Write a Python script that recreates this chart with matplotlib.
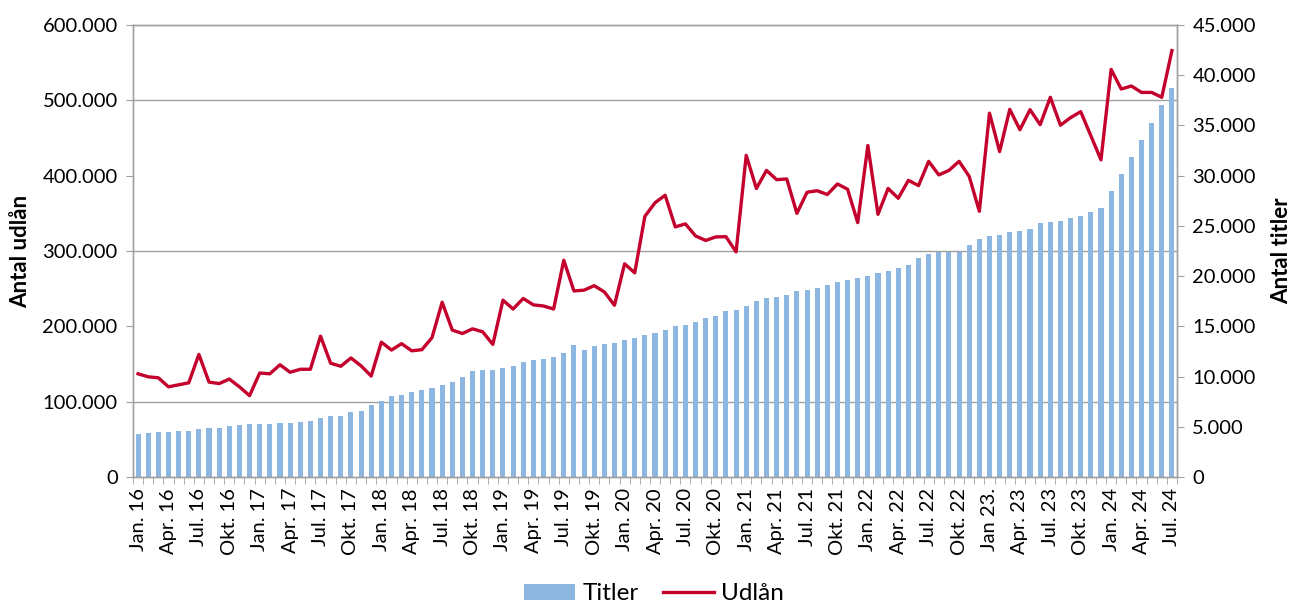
import matplotlib
matplotlib.use("Agg")
import matplotlib.pyplot as plt
from matplotlib.ticker import FuncFormatter, MultipleLocator, FixedLocator
from matplotlib.patches import Patch
from matplotlib.lines import Line2D

plt.rcParams['font.family'] = ['Lato', 'DejaVu Sans']

# antal titler pr. måned (jan. 2016 - jul. 2024)
titler = [4310, 4380, 4450, 4480, 4550, 4620, 4780, 4880, 4910, 5040, 5180, 5240,
          5240, 5280, 5380, 5350, 5480, 5610, 5910, 6040, 6110, 6440, 6570, 7140,
          7530, 8050, 8160, 8430, 8660, 8860, 9130, 9490, 9920, 10550, 10650, 10620,
          10850, 11080, 11450, 11620, 11720, 11980, 12310, 13140, 12680, 13010, 13240, 13370,
          13670, 13810, 14170, 14310, 14640, 15030, 15100, 15460, 15860, 16030, 16560, 16630,
          17020, 17520, 17790, 17920, 18090, 18520, 18620, 18820, 19080, 19380, 19610, 19810,
          19980, 20280, 20480, 20780, 21080, 21770, 22200, 22430, 22430, 22370, 23070, 23730,
          23960, 24120, 24390, 24490, 24660, 25260, 25420, 25450, 25760, 26020, 26350, 26750,
          28440, 30140, 31860, 33580, 35270, 37000, 38730]

# antal udlån pr. måned
udlaan = [137000, 133000, 131700, 119700, 122400, 125000, 162700, 126000, 124000, 130000, 119700, 108000,
          138000, 137000, 149000, 139000, 143000, 143000, 187000, 151000, 147000, 158000, 147600, 134000,
          179000, 168500, 177000, 167500, 169000, 185000, 232000, 195000, 190500, 196700, 192700, 176000,
          234700, 223000, 237000, 228500, 227000, 223000, 287700, 247000, 248000, 254000, 245700, 228000,
          283000, 271000, 346000, 364000, 374000, 332000, 336000, 320000, 314000, 318700, 319000, 298800,
          427000, 383000, 407000, 394700, 395600, 350000, 378000, 380000, 375000, 389000, 382000, 337700,
          440000, 348700, 383000, 370000, 393800, 386800, 419000, 401000, 407000, 419000, 399000, 352700,
          483000, 432000, 488000, 461000, 487600, 467700, 504000, 467000, 477000, 485000, 453000, 421000,
          541000, 515000, 519000, 510500, 510500, 504000, 566000]

# etiketter hver 3. måned
kvartal = ["Jan.", "Apr.", "Jul.", "Okt."]
aar = ["16", "17", "18", "19", "20", "21", "22", "23", "24"]
etiketter = []
for a in aar:
    for k in kvartal:
        if a == "23" and k == "Jan.":
            etiketter.append("Jan 23.")
        else:
            etiketter.append(k + " " + a)
etiketter = etiketter[:len(range(0, len(titler), 3))]

x = list(range(len(titler)))

fig = plt.figure(figsize=(12.94, 6.05), dpi=100)
ax = fig.add_axes([133/1294, 1-477/605, (1177-133)/1294, (477-25)/605])
ax2 = ax.twinx()

blaa = '#8DB6E0'
roed = '#C4002D'
graa = '#A0A0A0'

# søjler (højre akse)
ax2.bar(x, titler, width=0.5, color=blaa, zorder=2)
ax2.set_ylim(0, 45000)
ax2.yaxis.set_major_locator(MultipleLocator(5000))
ax2.yaxis.set_minor_locator(MultipleLocator(7500))
ax2.grid(which='minor', axis='y', color=graa, linewidth=1)
ax2.set_axisbelow(True)

# linje (venstre akse)
ax.plot(x, udlaan, color=roed, linewidth=2.4, zorder=3)
ax.set_ylim(0, 600000)
ax.set_xlim(-0.5, len(x) - 0.5)
ax.yaxis.set_major_locator(MultipleLocator(100000))
ax.set_zorder(ax2.get_zorder() + 1)
ax.patch.set_visible(False)

fmt = FuncFormatter(lambda v, p: f"{int(v):,}".replace(",", "."))
ax.yaxis.set_major_formatter(fmt)
ax2.yaxis.set_major_formatter(fmt)

# x-akse: streger mellem kategorier, etiketter hver 3. måned
ax.xaxis.set_major_locator(FixedLocator(list(range(0, len(x), 3))))
ax.set_xticklabels(etiketter, rotation=90, fontsize=14.5)
ax.xaxis.set_minor_locator(FixedLocator([i - 0.5 for i in range(len(x) + 1)]))
ax.tick_params(axis='x', which='major', length=0, pad=8)
ax.tick_params(axis='x', which='minor', length=5, color=graa)
ax.tick_params(axis='y', length=5, color=graa, labelsize=14.5, pad=6)
ax2.tick_params(axis='y', which='major', length=5, color=graa, labelsize=14.5, pad=6)
ax2.tick_params(axis='y', which='minor', length=0)

for a in (ax, ax2):
    for s in a.spines.values():
        s.set_color(graa)
        s.set_linewidth(1)

ax.set_ylabel("Antal udlån", fontsize=16, fontweight='bold', labelpad=8)
ax2.set_ylabel("Antal titler", fontsize=16, fontweight='bold', labelpad=11)

handles = [Patch(facecolor=blaa, edgecolor='none'),
           Line2D([0], [0], color=roed, linewidth=2.4)]
fig.legend(handles, ["Titler", "Udlån"], loc='center', bbox_to_anchor=(0.5055, 1 - 594/605),
           ncol=2, frameon=False, fontsize=17.5, handlelength=2.1, handleheight=0.65,
           handletextpad=0.3, columnspacing=1.0)

fig.savefig("out.png", dpi=100, facecolor='white')
